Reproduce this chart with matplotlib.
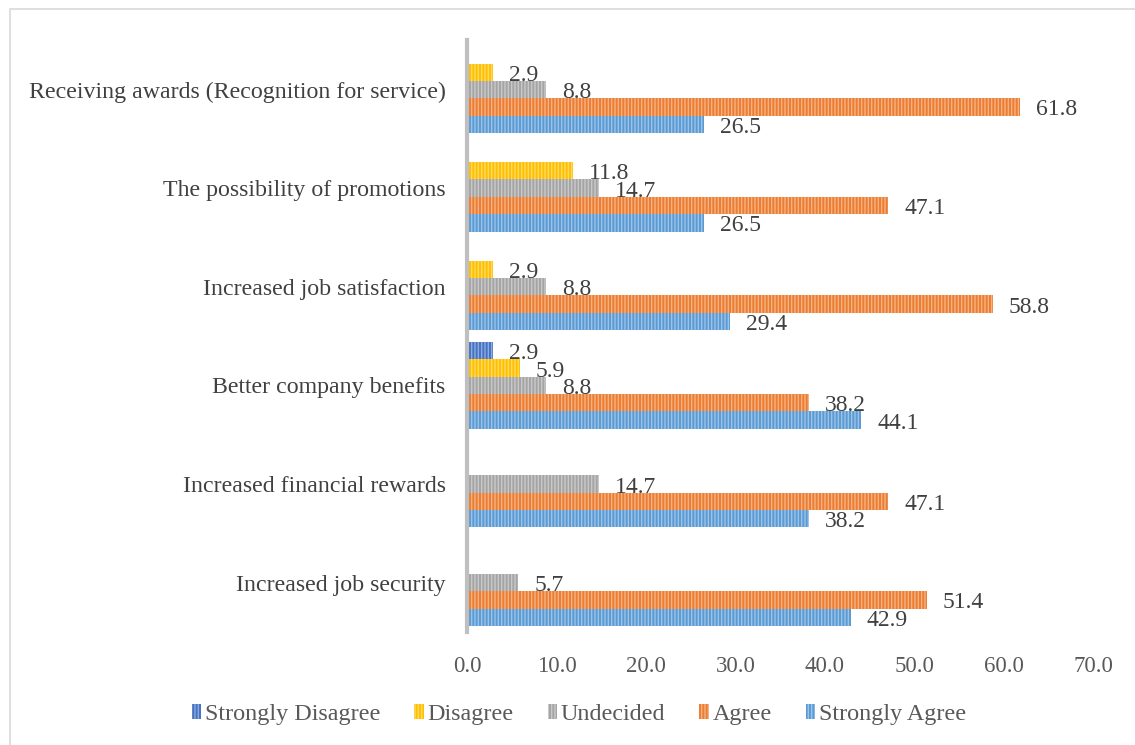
import numpy as np
import matplotlib.pyplot as plt
from matplotlib.patches import Rectangle
from matplotlib.colors import to_rgb

plt.rcParams['font.family'] = ['Liberation Serif', 'DejaVu Serif']
plt.rcParams['hatch.linewidth'] = 1.0

categories = ['Increased job security', 'Increased financial rewards', 'Better company benefits',
              'Increased job satisfaction', 'The possibility of promotions',
              'Receiving awards (Recognition for service)']
series = ['Strongly Agree', 'Agree', 'Undecided', 'Disagree', 'Strongly Disagree']
strongly_agree = [42.9, 38.2, 44.1, 29.4, 26.5, 26.5]
agree = [51.4, 47.1, 38.2, 58.8, 47.1, 61.8]
undecided = [5.7, 14.7, 8.8, 8.8, 14.7, 8.8]
disagree = [0, 0, 5.9, 2.9, 11.8, 2.9]
strongly_disagree = [0, 0, 2.9, 0, 0, 0]
values = [strongly_agree, agree, undecided, disagree, strongly_disagree]
colors = ['#5B9BD5', '#ED7D31', '#A5A5A5', '#FFC000', '#4472C4']

fig = plt.figure(figsize=(11.35, 7.45), dpi=100)
fig.patches.append(Rectangle((10 / 1135, -0.1), 1.2, 1 - 9 / 745 + 0.1, transform=fig.transFigure,
                             fill=False, edgecolor='#d9d9d9', linewidth=1.2))
ax = fig.add_axes([0.4115, 0.1517, 0.5515, 0.7943])

y = np.arange(len(categories))
h = 0.176
handles = []
for i, (name, vals, c) in enumerate(zip(series, values, colors)):
    light = tuple(min(1, v + (1 - v) * 0.4) for v in to_rgb(c))
    pos = y + (i - 2) * h
    bars = ax.barh(pos, vals, height=h, color=c, edgecolor=light, linewidth=0,
                   hatch='|||||', label=name)
    handles.append(bars)
    for p, v in zip(pos, vals):
        if v > 0:
            ax.text(v + 1.8, p - 0.03, f'{v:.1f}', va='center', ha='left',
                    fontsize=17, color='#404040')

ax.set_xlim(0, 70)
ax.set_ylim(-0.5, 5.5)
ax.set_yticks(y)
ax.set_yticklabels(categories, fontsize=17.2, color='#404040')
ax.set_xticks(np.arange(0, 71, 10))
ax.set_xticklabels([f'{t:.1f}' for t in np.arange(0, 71, 10)], fontsize=16.5, color='#595959')
ax.tick_params(axis='both', length=0)
ax.tick_params(axis='y', pad=15.5)
ax.tick_params(axis='x', pad=17)
for s in ['top', 'right', 'bottom']:
    ax.spines[s].set_visible(False)
ax.spines['left'].set_color('#bfbfbf')
ax.spines['left'].set_linewidth(3)

leg_order = handles[::-1]
fig.legend(leg_order, [hd.get_label() for hd in leg_order], loc='center',
           bbox_to_anchor=(0.51, 0.041), ncol=5, frameon=False, fontsize=17.4,
           handlelength=0.4, handleheight=0.6, handletextpad=0.15, columnspacing=1.4,
           labelcolor='#595959')

fig.savefig('out.png', dpi=100)
